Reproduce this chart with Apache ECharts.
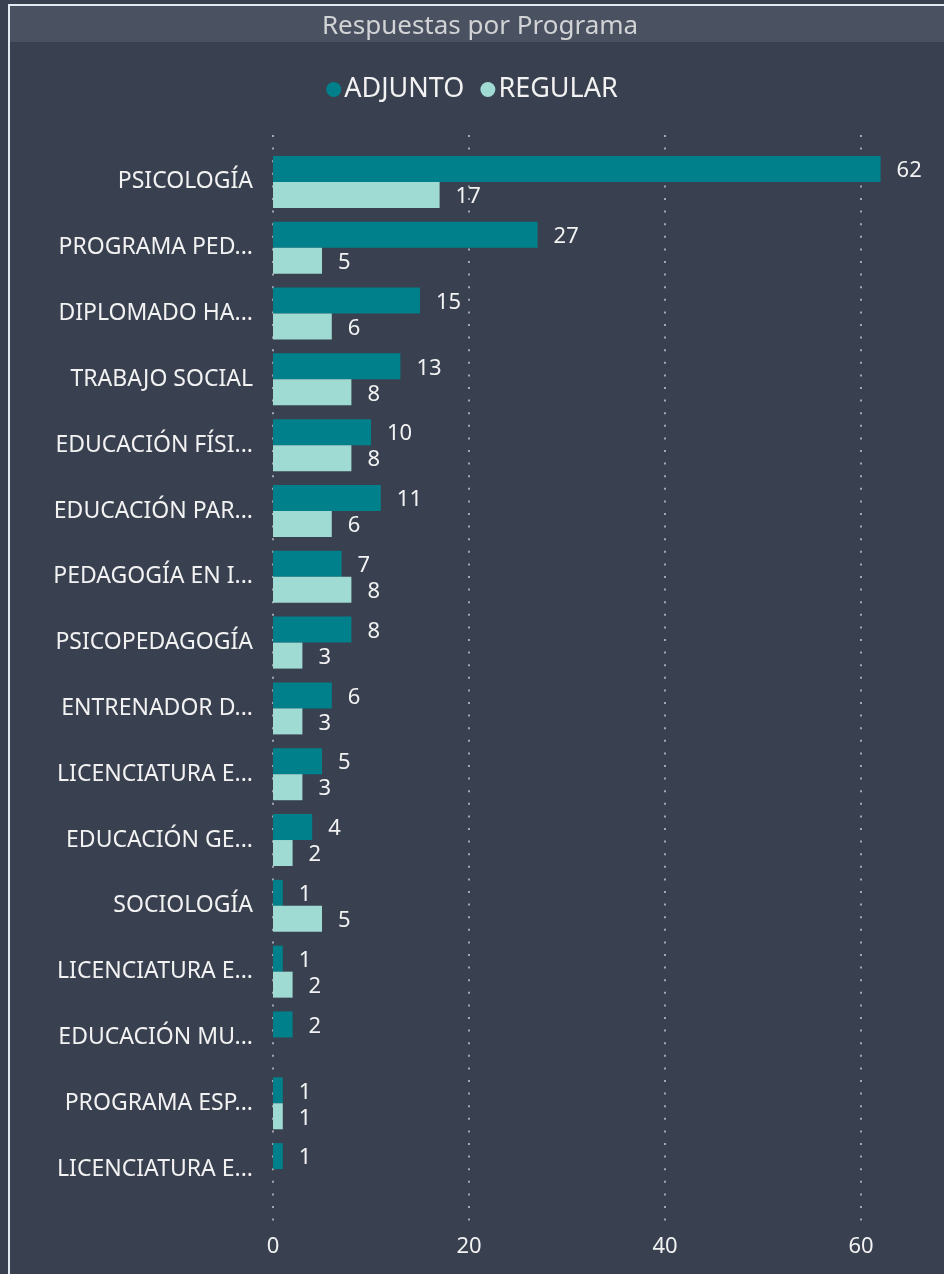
<!DOCTYPE html>
<html><head><meta charset="utf-8">
<script src="https://cdn.jsdelivr.net/npm/echarts@6/dist/echarts.min.js"></script>
<style>html,body{margin:0;padding:0;background:#394050;}#c{width:944px;height:1274px;}</style>
</head><body><div id="c"></div>
<script>
const title = 'Respuestas por Programa';
const seriesNames = ['ADJUNTO', 'REGULAR'];
const categories = ['PSICOLOGÍA','PROGRAMA PED...','DIPLOMADO HA...','TRABAJO SOCIAL','EDUCACIÓN FÍSI...','EDUCACIÓN PAR...','PEDAGOGÍA EN I...','PSICOPEDAGOGÍA','ENTRENADOR D...','LICENCIATURA E...','EDUCACIÓN GE...','SOCIOLOGÍA','LICENCIATURA E...','EDUCACIÓN MU...','PROGRAMA ESP...','LICENCIATURA E...'];
const adjunto = [62,27,15,13,10,11,7,8,6,5,4,1,1,2,1,1];
const regular = [17,5,6,8,8,6,8,3,3,3,2,5,2,null,1,null];
const xTicks = [0,20,40,60];

const FONT = '"Noto Sans", "Open Sans", sans-serif';
const chart = echarts.init(document.getElementById('c'), null, {renderer:'canvas'});
const catKeys = categories.map((_, i) => String(i));
const pxPerUnit = 9.8;
const x0 = 273;
const barMax = 66;
const tickMax = xTicks[xTicks.length-1];

const labelStyle = {show:true, position:'right', distance:16, offset:[0,2], color:'#f2f2f2', fontSize:22, fontFamily:FONT};

chart.setOption({
  backgroundColor:'#394050',
  animation:false,
  graphic:[
    {type:'rect', shape:{x:10, y:6, width:940, height:36}, style:{fill:'#4a5161'}, z:-1},
    {type:'rect', shape:{x:9, y:5, width:1000, height:1400}, style:{fill:null, stroke:'#e4eaf1', lineWidth:2}},
    {type:'text', x:480, y:27, style:{text:title, fill:'#d2d3d5', font:'26px ' + FONT, textAlign:'center', textVerticalAlign:'middle'}}
  ],
  legend:{
    data:seriesNames, top:71, left:'center', icon:'circle', itemWidth:15, itemHeight:15, itemGap:16,
    textStyle:{color:'#f2f2f2', fontSize:27, fontFamily:FONT, padding:[0,0,0,-2]}
  },
  grid:[
    {left:x0, top:149, width:barMax*pxPerUnit, height:1053, containLabel:false},
    {left:x0, top:135, width:tickMax*pxPerUnit, height:1086, containLabel:false}
  ],
  xAxis:[
    {type:'value', gridIndex:0, min:0, max:barMax, show:false, splitLine:{show:false}},
    {type:'value', gridIndex:1, min:0, max:tickMax, interval:20,
     axisLine:{show:false}, axisTick:{show:false},
     axisLabel:{color:'#f2f2f2', fontSize:22, fontFamily:FONT, margin:15},
     splitLine:{show:true, lineStyle:{color:'#a3a7ae', width:2, type:[2,10.6]}}}
  ],
  yAxis:[
    {type:'category', gridIndex:0, data:catKeys, inverse:true,
     axisLine:{show:false}, axisTick:{show:false},
     axisLabel:{color:'#f2f2f2', fontSize:23, fontFamily:FONT, margin:20, padding:[6,0,0,0], formatter:v => categories[+v]}},
    {type:'value', gridIndex:1, show:false, min:0, max:1}
  ],
  series:[
    {name:seriesNames[0], type:'bar', xAxisIndex:0, yAxisIndex:0, data:adjunto, barWidth:26, barGap:'0%',
     itemStyle:{color:'#00808a'}, label:labelStyle},
    {name:seriesNames[1], type:'bar', xAxisIndex:0, yAxisIndex:0, data:regular, barWidth:26, barGap:'0%',
     itemStyle:{color:'#9fdad3'}, label:labelStyle}
  ]
});
</script></body></html>
